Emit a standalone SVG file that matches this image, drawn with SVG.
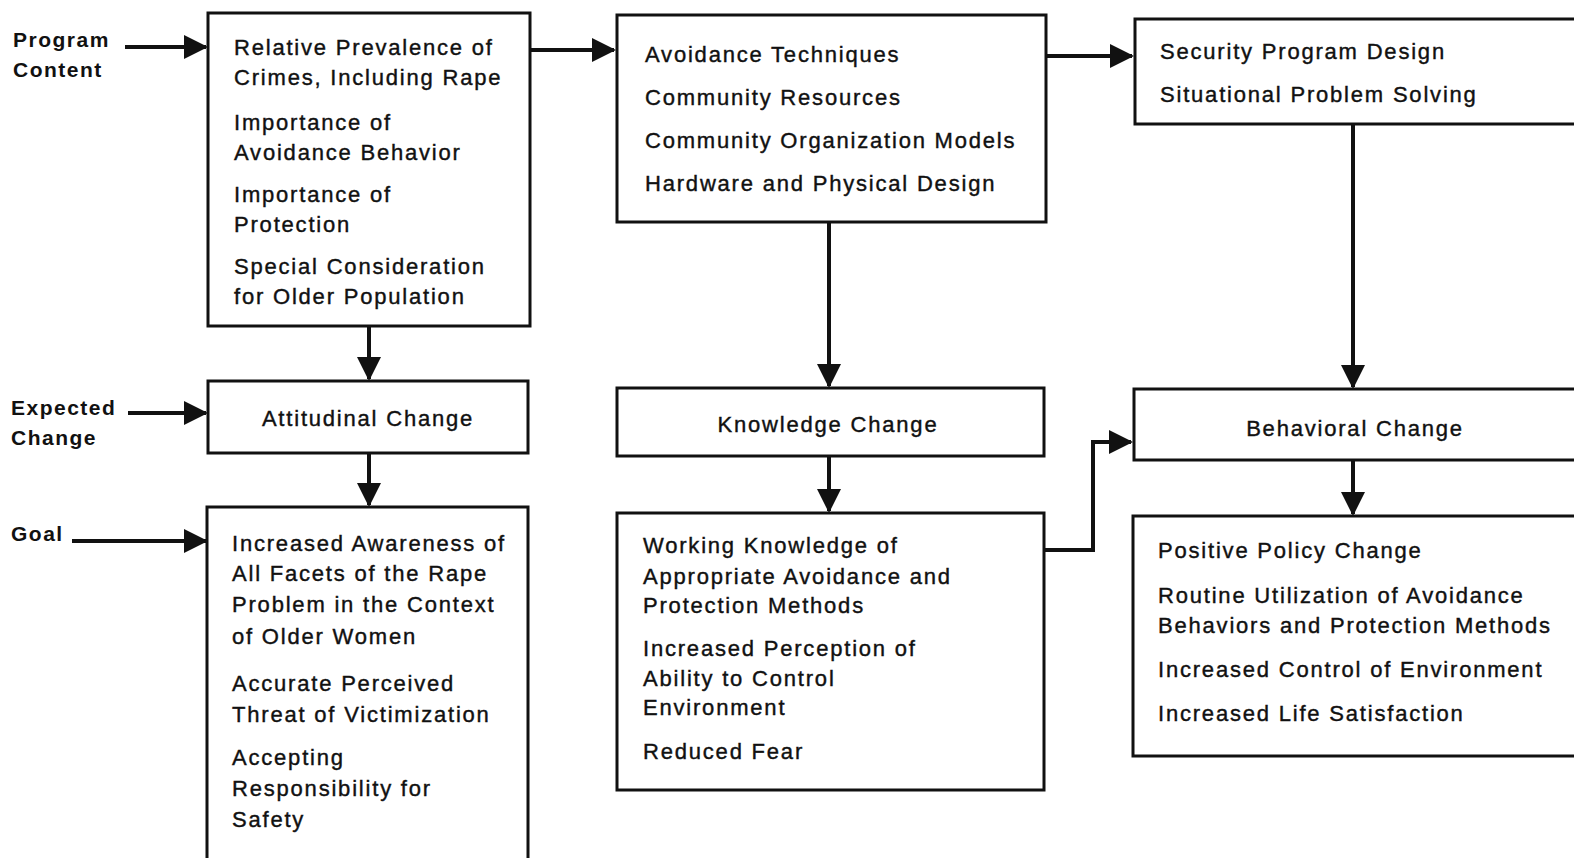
<svg xmlns="http://www.w3.org/2000/svg" width="1574" height="858" viewBox="0 0 1574 858">
<style>
.box{fill:#fff;stroke:#111;stroke-width:3}
.t{font-family:"Liberation Sans",Arial,sans-serif;font-size:22px;letter-spacing:1.8px;fill:#111;stroke:#111;stroke-width:0.4}
.c{text-anchor:middle}
.lbl{font-family:"Liberation Sans",Arial,sans-serif;font-size:21px;font-weight:bold;letter-spacing:1.5px;fill:#111}
.ln{fill:none;stroke:#111;stroke-width:4}
</style>
<defs>
<marker id="ah" viewBox="0 0 24 24" refX="22" refY="12" markerWidth="24" markerHeight="24" markerUnits="userSpaceOnUse" orient="auto">
<path d="M0,0 L24,12 L0,24 Z" fill="#111"/>
</marker>
</defs>
<rect width="1574" height="858" fill="#fff"/>

<g id="labels">
<text class="lbl" x="13" y="47">Program</text>
<text class="lbl" x="13" y="77">Content</text>
<text class="lbl" x="11" y="415">Expected</text>
<text class="lbl" x="11" y="445">Change</text>
<text class="lbl" x="11" y="541">Goal</text>
</g>

<g id="connectors">
<line class="ln" x1="125" y1="47" x2="206" y2="47" marker-end="url(#ah)"/>
<line class="ln" x1="128" y1="413" x2="206" y2="413" marker-end="url(#ah)"/>
<line class="ln" x1="72" y1="541" x2="206" y2="541" marker-end="url(#ah)"/>
<line class="ln" x1="530" y1="50" x2="614" y2="50" marker-end="url(#ah)"/>
<line class="ln" x1="1046" y1="56" x2="1132" y2="56" marker-end="url(#ah)"/>
<line class="ln" x1="369" y1="326" x2="369" y2="379" marker-end="url(#ah)"/>
<line class="ln" x1="369" y1="453" x2="369" y2="505" marker-end="url(#ah)"/>
<line class="ln" x1="829" y1="222" x2="829" y2="386" marker-end="url(#ah)"/>
<line class="ln" x1="829" y1="456" x2="829" y2="511" marker-end="url(#ah)"/>
<line class="ln" x1="1353" y1="124" x2="1353" y2="387" marker-end="url(#ah)"/>
<line class="ln" x1="1353" y1="460" x2="1353" y2="514" marker-end="url(#ah)"/>
<polyline class="ln" points="1045,550 1093,550 1093,442 1131,442" marker-end="url(#ah)"/>
</g>

<g id="program-content-1">
<rect class="box" x="208" y="13" width="322" height="313"/>
<text class="t" x="234" y="55">Relative Prevalence of</text>
<text class="t" x="234" y="85">Crimes, Including Rape</text>
<text class="t" x="234" y="130">Importance of</text>
<text class="t" x="234" y="160">Avoidance Behavior</text>
<text class="t" x="234" y="202">Importance of</text>
<text class="t" x="234" y="232">Protection</text>
<text class="t" x="234" y="274">Special Consideration</text>
<text class="t" x="234" y="304">for Older Population</text>
</g>

<g id="attitudinal-change">
<rect class="box" x="208" y="381" width="320" height="72"/>
<text class="t c" x="368" y="426">Attitudinal Change</text>
</g>

<g id="goal-1">
<rect class="box" x="207" y="507" width="321" height="360"/>
<text class="t" x="232" y="551">Increased Awareness of</text>
<text class="t" x="232" y="581">All Facets of the Rape</text>
<text class="t" x="232" y="612">Problem in the Context</text>
<text class="t" x="232" y="644">of Older Women</text>
<text class="t" x="232" y="691">Accurate Perceived</text>
<text class="t" x="232" y="722">Threat of Victimization</text>
<text class="t" x="232" y="765">Accepting</text>
<text class="t" x="232" y="796">Responsibility for</text>
<text class="t" x="232" y="827">Safety</text>
</g>

<g id="program-content-2">
<rect class="box" x="617" y="15" width="429" height="207"/>
<text class="t" x="645" y="62">Avoidance Techniques</text>
<text class="t" x="645" y="105">Community Resources</text>
<text class="t" x="645" y="148">Community Organization Models</text>
<text class="t" x="645" y="191">Hardware and Physical Design</text>
</g>

<g id="knowledge-change">
<rect class="box" x="617" y="388" width="427" height="68"/>
<text class="t c" x="828" y="432">Knowledge Change</text>
</g>

<g id="goal-2">
<rect class="box" x="617" y="513" width="427" height="277"/>
<text class="t" x="643" y="553">Working Knowledge of</text>
<text class="t" x="643" y="584">Appropriate Avoidance and</text>
<text class="t" x="643" y="613">Protection Methods</text>
<text class="t" x="643" y="656">Increased Perception of</text>
<text class="t" x="643" y="686">Ability to Control</text>
<text class="t" x="643" y="715">Environment</text>
<text class="t" x="643" y="759">Reduced Fear</text>
</g>

<g id="program-content-3">
<rect class="box" x="1135" y="19" width="460" height="105"/>
<text class="t" x="1160" y="59">Security Program Design</text>
<text class="t" x="1160" y="102">Situational Problem Solving</text>
</g>

<g id="behavioral-change">
<rect class="box" x="1134" y="389" width="460" height="71"/>
<text class="t c" x="1355" y="436">Behavioral Change</text>
</g>

<g id="goal-3">
<rect class="box" x="1133" y="516" width="460" height="240"/>
<text class="t" x="1158" y="558">Positive Policy Change</text>
<text class="t" x="1158" y="603">Routine Utilization of Avoidance</text>
<text class="t" x="1158" y="633">Behaviors and Protection Methods</text>
<text class="t" x="1158" y="677">Increased Control of Environment</text>
<text class="t" x="1158" y="721">Increased Life Satisfaction</text>
</g>
</svg>
